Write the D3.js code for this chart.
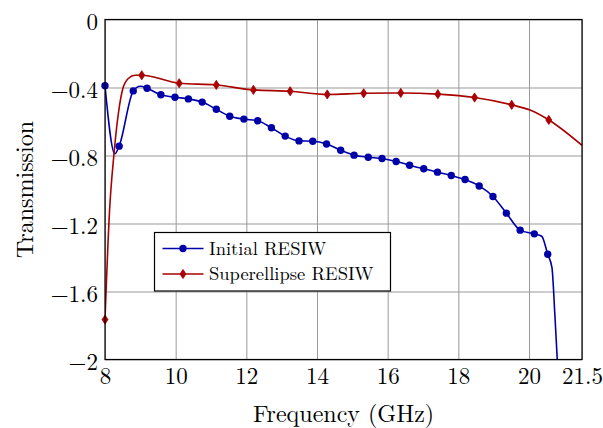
<!DOCTYPE html>
<html>
<head>
<meta charset="utf-8">
<script src="https://cdn.jsdelivr.net/npm/d3@7"></script>
<style>
  body { margin: 0; background: #fff; }
  text { font-family: "Latin Modern Roman", "CMU Serif", "Liberation Serif", serif; }
</style>
</head>
<body>
<div id="chart"></div>
<script>
// tick labels
const xTicks = [8, 10, 12, 14, 16, 18, 20, 21.5]
const yTicks = [0, -0.4, -0.8, -1.2, -1.6, -2]

// Initial RESIW, marked samples
const initialFreq = [8.0, 8.4, 8.8, 9.19, 9.58, 9.98, 10.36, 10.75, 11.15, 11.53, 11.93, 12.32,
  12.71, 13.1, 13.49, 13.88, 14.27, 14.67, 15.05, 15.45, 15.84, 16.24, 16.62, 17.02,
  17.41, 17.8, 18.19, 18.59, 18.98, 19.36, 19.75, 20.15, 20.53]
const initialVal = [-0.39, -0.745, -0.42, -0.404, -0.443, -0.457, -0.467, -0.486, -0.528, -0.569, -0.586, -0.596,
  -0.637, -0.686, -0.714, -0.716, -0.732, -0.769, -0.798, -0.81, -0.818, -0.835, -0.857, -0.878,
  -0.898, -0.918, -0.941, -0.979, -1.041, -1.139, -1.239, -1.261, -1.381]
// unmarked samples in between (curve only)
const initialExtraFreq = [8.28, 9.0, 20.36, 20.65, 20.73, 20.8, 20.88]
const initialExtraVal = [-0.79, -0.393, -1.275, -1.46, -1.73, -2.0, -2.4]

// Superellipse RESIW, marked samples
const superFreq = [8.0, 9.04, 10.1, 11.15, 12.2, 13.24, 14.29, 15.32, 16.37, 17.42, 18.46, 19.51, 20.56]
const superVal = [-1.765, -0.328, -0.375, -0.385, -0.414, -0.422, -0.441, -0.434, -0.432, -0.439, -0.459, -0.502, -0.591]
const superExtraFreq = [8.13, 8.25, 8.38, 8.5, 8.66, 8.85, 20.03, 21.5]
const superExtraVal = [-1.12, -0.8, -0.55, -0.41, -0.347, -0.328, -0.533, -0.74]

const blue = '#0000a8'
const red = '#a80000'

const width = 603
const height = 428
const mLeft = 105, mRight = 582, mTop = 19.5, mBottom = 359.5

const svg = d3.select('#chart').append('svg')
  .attr('width', width)
  .attr('height', height)

const x = d3.scaleLinear().domain([8, 21.5]).range([mLeft, mRight])
const y = d3.scaleLinear().domain([-2, 0]).range([mBottom, mTop])

const pts = (f, v) => f.map((d, i) => [d, v[i]])
const merged = (a, b) => a.concat(b).sort((p, q) => p[0] - q[0])

const initialMarks = pts(initialFreq, initialVal)
const initialLine = merged(initialMarks, pts(initialExtraFreq, initialExtraVal))
const superMarks = pts(superFreq, superVal)
const superLine = merged(superMarks, pts(superExtraFreq, superExtraVal))

// grid
svg.append('g')
  .attr('transform', `translate(0,${mBottom})`)
  .call(d3.axisBottom(x).tickValues(xTicks).tickSize(-(mBottom - mTop)).tickFormat(''))
  .call(g => g.select('.domain').remove())
  .call(g => g.selectAll('line').attr('stroke', '#999').attr('stroke-width', 1))

svg.append('g')
  .attr('transform', `translate(${mLeft},0)`)
  .call(d3.axisLeft(y).tickValues(yTicks).tickSize(-(mRight - mLeft)).tickFormat(''))
  .call(g => g.select('.domain').remove())
  .call(g => g.selectAll('line').attr('stroke', '#999').attr('stroke-width', 1))

// tick labels
svg.append('g')
  .attr('transform', `translate(0,${mBottom})`)
  .call(d3.axisBottom(x).tickValues(xTicks).tickSize(0).tickPadding(8).tickFormat(d => d))
  .call(g => g.select('.domain').remove())
  .call(g => g.selectAll('text').attr('font-size', 23).attr('fill', '#000')
    .attr('font-family', '"Liberation Serif", serif'))

const fmtY = d => d === 0 ? '0' : '\u2212' + Math.abs(d)
svg.append('g')
  .attr('transform', `translate(${mLeft},0)`)
  .call(d3.axisLeft(y).tickValues(yTicks).tickSize(0).tickPadding(7).tickFormat(fmtY))
  .call(g => g.select('.domain').remove())
  .call(g => g.selectAll('text').attr('font-size', 23).attr('fill', '#000').attr('dy', '0.45em')
    .attr('font-family', '"Liberation Serif", serif'))

// clip
svg.append('clipPath').attr('id', 'plot-clip')
  .append('rect').attr('x', mLeft).attr('y', mTop).attr('width', mRight - mLeft).attr('height', mBottom - mTop)

const line = d3.line()
  .x(d => x(d[0]))
  .y(d => y(d[1]))
  .curve(d3.curveMonotoneX)

const curves = svg.append('g').attr('clip-path', 'url(#plot-clip)')
curves.append('path').datum(initialLine)
  .attr('d', line).attr('fill', 'none').attr('stroke', blue).attr('stroke-width', 1.6)
curves.append('path').datum(superLine)
  .attr('d', line).attr('fill', 'none').attr('stroke', red).attr('stroke-width', 1.6)

const diamond = 'M0,-4.6L3,0L0,4.6L-3,0Z'

svg.append('g').selectAll('circle')
  .data(initialMarks)
  .enter()
  .append('circle')
  .attr('cx', d => x(d[0]))
  .attr('cy', d => y(d[1]))
  .attr('r', 3.7)
  .attr('fill', blue)

svg.append('g').selectAll('path')
  .data(superMarks)
  .enter()
  .append('path')
  .attr('d', diamond)
  .attr('transform', d => `translate(${x(d[0])},${y(d[1])})`)
  .attr('fill', red)
  .attr('stroke', red)
  .attr('stroke-width', 0.8)

// frame
svg.append('rect')
  .attr('x', mLeft).attr('y', mTop)
  .attr('width', mRight - mLeft).attr('height', mBottom - mTop)
  .attr('fill', 'none').attr('stroke', '#000').attr('stroke-width', 1.2)

// axis titles
svg.append('text')
  .attr('x', (mLeft + mRight) / 2).attr('y', 412)
  .attr('text-anchor', 'middle').attr('dominant-baseline', 'central')
  .attr('font-size', 24).attr('font-family', '"Liberation Serif", serif')
  .text('Frequency (GHz)')

svg.append('text')
  .attr('transform', `translate(23,${(mTop + mBottom) / 2}) rotate(-90)`)
  .attr('text-anchor', 'middle').attr('dominant-baseline', 'central')
  .attr('font-size', 24).attr('font-family', '"Liberation Serif", serif')
  .text('Transmission')

// legend
const legend = svg.append('g')
legend.append('rect')
  .attr('x', 154.5).attr('y', 232.5).attr('width', 236).attr('height', 58.5)
  .attr('fill', '#fff').attr('stroke', '#000').attr('stroke-width', 1.2)

const entries = [
  { name: 'Initial RESIW', color: blue, mark: 'circle', cy: 248.5 },
  { name: 'Superellipse RESIW', color: red, mark: 'diamond', cy: 274 }
]
entries.forEach(e => {
  legend.append('line')
    .attr('x1', 162.5).attr('x2', 203.5).attr('y1', e.cy).attr('y2', e.cy)
    .attr('stroke', e.color).attr('stroke-width', 1.6)
  if (e.mark === 'circle') {
    legend.append('circle').attr('cx', 183).attr('cy', e.cy).attr('r', 3.7).attr('fill', e.color)
  } else {
    legend.append('path').attr('d', diamond).attr('transform', `translate(183,${e.cy})`)
      .attr('fill', e.color).attr('stroke', e.color).attr('stroke-width', 0.8)
  }
  legend.append('text')
    .attr('x', 209).attr('y', e.cy + 6)
    .attr('font-size', 18.5).attr('font-family', '"Liberation Serif", serif')
    .text(e.name)
})
</script>
</body>
</html>
